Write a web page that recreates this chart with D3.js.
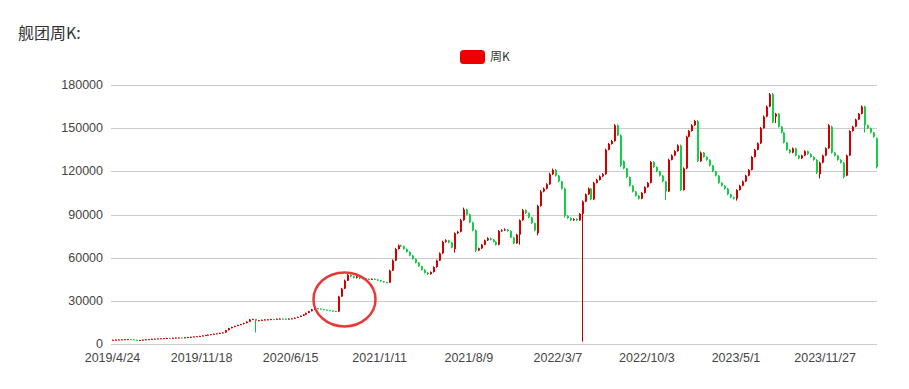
<!DOCTYPE html>
<html><head><meta charset="utf-8">
<script src="https://cdn.jsdelivr.net/npm/d3@7/dist/d3.min.js"></script>
<style>body{margin:0;background:#fff}svg{display:block}</style>
</head><body><svg id="c" width="909" height="389"></svg>
<script>
// ---- data ----
const titleText = "舰团周K:";
const seriesName = "周K";
const firstDate = "2019/4/24";
const tickLabels = ["2019/4/24","2019/11/18","2020/6/15","2021/1/11","2021/8/9","2022/3/7","2022/10/3","2023/5/1","2023/11/27"];
const yTicks = [0,30000,60000,90000,120000,150000,180000];

const open = [
2800,2900,3000,3100,3200,3300,3400,3100,2900,2700,
2800,3000,3200,3400,3600,3700,3800,3900,4000,4200,
4100,4300,4400,4500,4300,4600,4800,5000,5200,5400,
5600,5900,6200,6500,6800,7100,7400,7700,8000,9600,
11000,11800,12500,13200,13800,14500,15500,17000,17300,16200,
16500,16800,17000,17100,17300,17200,17500,17600,17500,17400,
17600,17800,18200,18800,19600,20500,21600,22800,24000,24800,
24600,24200,23800,23500,23200,22900,22500,33000,38500,44000,
48000,47000,46000,46800,45500,45800,45200,45000,45300,44800,
44300,43600,43000,42600,51000,58000,66000,68500,68000,66000,
64000,61500,59000,56500,54000,51500,49500,48500,50000,53500,
58000,63000,71000,72000,70500,66000,77000,78000,86000,93500,
90000,84500,79000,65000,66500,69000,72000,73500,72500,71000,
69000,78500,79000,79600,78500,74000,70000,76000,86000,93000,
91000,88000,84000,77000,96000,106000,108000,111000,118000,121000,
117000,113000,108000,89000,87500,86000,86800,86000,90500,99000,
104000,108000,100500,112000,114000,116500,118000,135000,139000,141000,
152000,145000,127000,122000,116000,110000,106000,103000,101000,105000,
109000,112000,126500,123000,120000,117000,113000,106000,128000,131000,
134000,138000,107000,122000,144000,148000,152000,155000,127000,133000,
130000,128000,124000,120000,117000,112000,110000,108000,104000,102000,
101000,107000,110000,113000,117000,121000,130000,135000,139500,150000,
158000,165000,173500,158000,160000,151000,147000,140000,135000,133000,
136000,131000,129000,131000,134000,132000,130000,128000,118000,126000,
131000,136000,151000,133000,131000,128000,126000,117000,131000,148000,
151000,156000,160000,165000,152000,150000,147000,143000];

const close = [
2900,3000,3100,3200,3300,3400,3100,2900,2700,2800,
3000,3200,3400,3600,3700,3800,3900,4000,4200,4100,
4300,4400,4500,4300,4600,4800,5000,5200,5400,5600,
5900,6200,6500,6800,7100,7400,7700,8000,9600,11000,
11800,12500,13200,13800,14500,15500,17000,17300,16200,16500,
16800,17000,17100,17300,17200,17500,17600,17500,17400,17600,
17800,18200,18800,19600,20500,21600,22800,24000,24800,24600,
24200,23800,23500,23200,22900,22500,33000,38500,44000,48000,
47000,46000,46800,45500,45800,45200,45000,45300,44800,44300,
43600,43000,42600,51000,58000,66000,68500,68000,66000,64000,
61500,59000,56500,54000,51500,49500,48500,50000,53500,58000,
63000,71000,72000,70500,67000,77000,78000,86000,93500,90000,
84500,79000,65000,66500,69000,72000,73500,72500,71000,69000,
78500,79000,79600,78500,74000,70000,76000,86000,93000,91000,
88000,84000,79000,96000,106000,108000,111000,118000,121000,117000,
113000,108000,89000,87500,86000,86800,86000,90500,99000,104000,
108000,100500,112000,114000,116500,118000,135000,139000,141000,152000,
145000,124000,122000,116000,110000,106000,103000,101000,105000,109000,
112000,126500,123000,120000,117000,113000,106000,128000,131000,134000,
138000,107000,122000,144000,148000,152000,155000,127000,133000,130000,
128000,124000,120000,117000,112000,110000,108000,104000,102000,101000,
107000,110000,113000,117000,121000,130000,135000,139500,150000,158000,
165000,173500,154000,160000,151000,147000,140000,135000,133000,136000,
131000,129000,131000,134000,132000,130000,128000,119000,126000,131000,
136000,152000,133000,131000,128000,126000,116000,131000,148000,151000,
156000,160000,165000,152000,150000,147000,144000,123000];

const low = [
2700,2800,2900,3000,3100,3200,3000,2800,2600,2600,
2700,2900,3100,3300,3500,3600,3700,3800,3900,4000,
4000,4200,4300,4200,4200,4500,4700,4900,5100,5300,
5500,5800,6100,6400,6700,7000,7300,7600,7900,9500,
10900,11700,12400,13100,13700,14400,15400,16800,8000,16000,
16300,16600,16800,17000,17000,17100,17300,17300,17200,17300,
17500,17700,18100,18700,19500,20400,21500,22700,23900,24400,
24000,23600,23300,23000,22700,22300,22300,32800,38200,43800,
46500,45600,45600,45200,45200,44900,44700,44800,44500,44000,
43300,42600,42200,42400,50800,57600,65600,67400,65600,63600,
61000,58600,56000,53600,51000,49000,48000,48200,49600,53000,
57600,62600,70400,70000,66500,63500,76400,77600,85600,89400,
84000,78400,64000,64600,66000,68600,71600,72000,70600,68400,
68600,78000,78600,78000,73600,69400,69600,69000,85600,90400,
87400,83400,78400,75500,95400,105400,107400,110600,117400,116400,
112400,107400,88000,87000,85400,85600,85400,85600,1600,98600,
103600,100000,100000,111600,113600,116000,117600,134600,138600,140600,
144400,123000,121400,115400,109400,105400,102400,100400,100600,104600,
108600,111600,122400,119400,116400,112400,100000,105600,127600,130600,
133600,106400,106600,121600,143600,147600,151600,126400,126600,129400,
127400,123400,119400,116400,111400,109400,107400,103400,101400,100400,
99600,106600,109600,112600,116600,120600,129600,134600,139000,149600,
157600,164600,153400,153600,150400,146400,139400,134400,132400,132600,
130400,128400,128600,130600,131400,129400,127400,118000,115000,125600,
130600,135600,132400,130400,127400,125400,115000,116600,130600,147600,
150600,155600,159600,147000,149400,146400,143400,122000];

const high = [
3000,3100,3200,3300,3500,3500,3500,3200,3000,2900,
3100,3300,3500,3700,3800,3900,4000,4100,4300,4300,
4400,4500,4600,4600,4700,4900,5100,5300,5500,5700,
6000,6300,6600,6900,7200,7500,7800,8100,9800,11200,
12000,12700,13400,14000,14700,15800,17300,17600,17500,16700,
17000,17200,17300,17500,17500,17700,17800,17800,17700,17800,
18000,18400,19000,19800,20700,21800,23000,24300,25100,25000,
24800,24400,24000,23700,23400,23100,33500,39000,44800,48600,
48400,47400,47200,47000,46200,46000,45500,45600,45500,45000,
44500,43800,43200,51600,58800,66800,69200,69000,68400,66400,
64400,62000,59400,57000,54400,52000,50000,50500,54000,58600,
63600,71800,72800,72400,71000,77600,78600,87000,94800,94000,
90600,85000,79600,67000,69600,72600,74200,74000,73000,71400,
79200,79800,80400,80000,79000,74400,76600,86600,93800,93600,
91400,88400,84400,96800,107000,108800,111800,119000,122000,121600,
117400,113400,108600,89600,88000,87400,87400,91000,99800,104600,
108800,108400,112800,114800,117200,118800,135800,139800,141800,152800,
152600,145600,127600,122400,116400,110400,106400,103600,105600,109600,
112600,127200,127000,123400,120400,117400,113400,128800,131800,134800,
138800,138600,122800,144800,148800,152800,155800,155600,133800,133400,
130400,128400,124400,120400,117400,112400,110400,108400,104400,102400,
107600,110600,113600,117600,121600,130600,135600,140200,150800,158800,
165800,174400,174400,160600,160400,151400,147400,140400,135400,136600,
136400,131400,131600,134600,134400,132400,130400,128400,126600,131600,
136600,152800,151600,133400,131400,128400,126400,131600,148600,151600,
156600,160600,165800,165600,152400,150400,147400,143600];

// annotation circle anchor (index of week, value)
const markIndex = 78;
const markValue = 31000;

// ---- build ----
const N = open.length;
const fmt = d3.timeFormat("%Y/%-m/%-d");
const mondays = d3.timeMonday.range(new Date(2019,3,29), new Date(2030,0,1)).slice(0, N - 1);
const dates = [firstDate].concat(mondays.map(fmt));

const M = {left:111, right:877, top:85, bottom:344};
const FONT = '"Microsoft YaHei","Noto Sans CJK SC","Noto Sans",sans-serif';
const NUMFONT = '"Liberation Sans",Arial,sans-serif';

const svg = d3.select("#c");
const x = d3.scaleBand().domain(dates).range([M.left, M.right]).padding(0);
const y = d3.scaleLinear().domain([0,180000]).range([M.bottom, M.top]);
const cx = d => Math.round(x(d) + x.bandwidth()/2) + 0.5;

// title
svg.append("text").attr("x",18).attr("y",39).attr("font-family",FONT)
  .attr("font-size",16).attr("fill","#333").text(titleText);

// legend
const lg = svg.append("g");
lg.append("rect").attr("x",460).attr("y",50).attr("width",25).attr("height",14)
  .attr("rx",3.5).attr("fill","#ec0000");
lg.append("text").attr("x",490).attr("y",61).attr("font-family",FONT)
  .attr("font-size",12).attr("fill","#333").text(seriesName);

// grid + y labels
const yAxis = d3.axisLeft(y).tickValues(yTicks).tickSize(-(M.right-M.left)).tickPadding(8).tickFormat(d3.format("d"));
const gy = svg.append("g").attr("transform",`translate(${M.left},0)`).call(yAxis);
gy.select(".domain").remove();
gy.selectAll(".tick line").attr("stroke","#ccc").attr("shape-rendering","crispEdges");
gy.selectAll(".tick text").attr("font-family",NUMFONT).attr("font-size",12.5)
  .attr("fill","#444").attr("dy",null).attr("y",3.6);

// x axis
const xAxis = d3.axisBottom(x).tickValues(tickLabels).tickSize(0).tickPadding(8);
const gx = svg.append("g").attr("transform",`translate(0,${M.bottom})`).call(xAxis);
gx.select(".domain").attr("stroke","#ccc").attr("shape-rendering","crispEdges")
  .attr("d",`M${M.left},0.5H${M.right}`);
gx.selectAll(".tick text").attr("font-family",NUMFONT).attr("font-size",12.5)
  .attr("fill","#444").attr("dy",null).attr("y",17.8);

// candles
const rows = dates.map((d,i)=>({d, o:open[i], c:close[i], l:low[i], h:high[i]}));
const UP = "#d40000", UPW = "#c00000", DN = "#12d046", DNW = "#0cc03e";
const bw = 2;
const gc = svg.append("g");
gc.selectAll("line.w").data(rows).join("line")
  .attr("x1",r=>cx(r.d)).attr("x2",r=>cx(r.d))
  .attr("y1",r=>y(r.h)).attr("y2",r=>y(r.l))
  .attr("stroke",r=>r.c>=r.o?UPW:DNW).attr("stroke-width",1);
gc.selectAll("rect.b").data(rows).join("rect")
  .attr("x",r=>cx(r.d)-0.5).attr("width",bw)
  .attr("y",r=>y(Math.max(r.o,r.c)))
  .attr("height",r=>Math.max(1,Math.abs(y(r.o)-y(r.c))))
  .attr("fill",r=>r.c>=r.o?UP:DN);

// annotation ellipse
svg.append("ellipse").attr("cx",cx(dates[markIndex])).attr("cy",y(markValue))
  .attr("rx",31).attr("ry",27).attr("fill","none")
  .attr("stroke","#e8393a").attr("stroke-width",2.5);
</script></body></html>
